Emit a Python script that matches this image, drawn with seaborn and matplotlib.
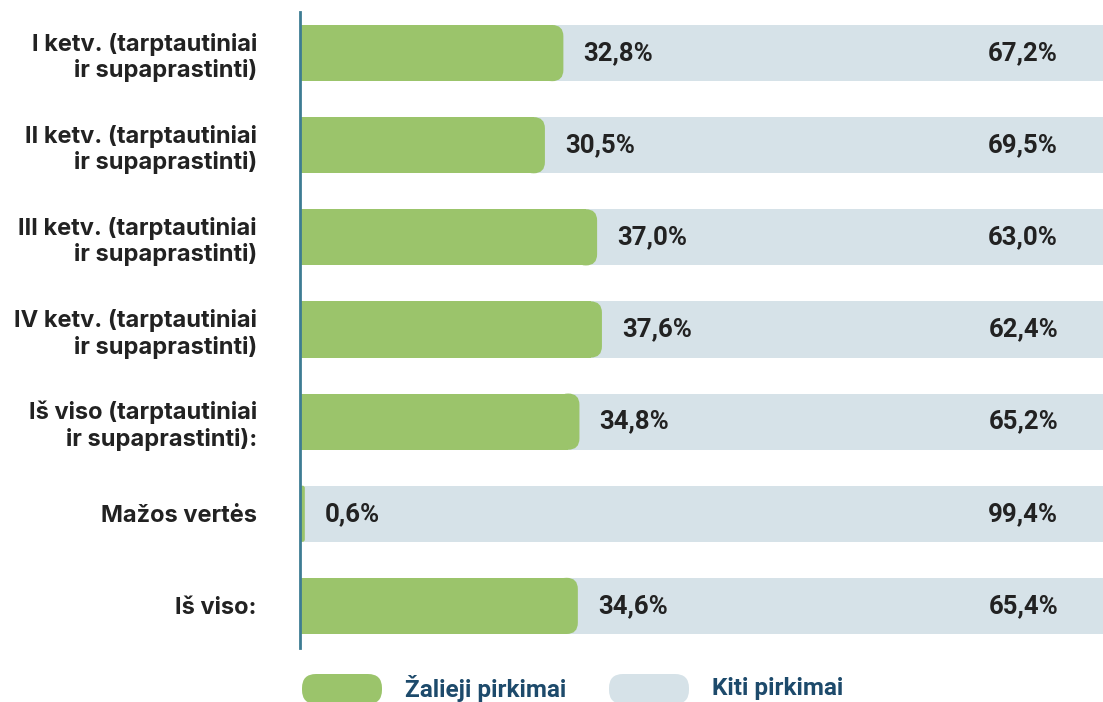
import matplotlib.pyplot as plt
import seaborn as sns
from matplotlib.patches import FancyBboxPatch

# Data
categories = [
    'I ketv. (tarptautiniai\nir supaprastinti)',
    'II ketv. (tarptautiniai\nir supaprastinti)',
    'III ketv. (tarptautiniai\nir supaprastinti)',
    'IV ketv. (tarptautiniai\nir supaprastinti)',
    'Iš viso (tarptautiniai\nir supaprastinti):',
    'Mažos vertės',
    'Iš viso:',
]
green_share = [32.8, 30.5, 37.0, 37.6, 34.8, 0.6, 34.6]
other_share = [67.2, 69.5, 63.0, 62.4, 65.2, 99.4, 65.4]
green_labels = ['32,8%', '30,5%', '37,0%', '37,6%', '34,8%', '0,6%', '34,6%']
other_labels = ['67,2%', '69,5%', '63,0%', '62,4%', '65,2%', '99,4%', '65,4%']
legend_labels = ['Žalieji pirkimai', 'Kiti pirkimai']

GREEN = '#9bc46b'
GREY = '#d6e2e8'
TEXT = '#222222'
NAVY = '#1d4a6b'
AXIS = '#3d7c93'

sns.set_style('white')
plt.rcParams['font.family'] = ['Inter', 'DejaVu Sans']

fig = plt.figure(figsize=(11.03, 7.02), dpi=100)
ax = fig.add_axes([300 / 1103, 1 - 648 / 702, 1 - 300 / 1103, 636 / 702])

bar_h = 0.61
pos = list(range(len(categories)))
r_max = 1.4  # corner radius in x units (~11 px)

# grey remainder bars (tucked a little under the green rounded end)
grey = ax.barh(pos, other_share, left=green_share, height=bar_h, color=GREY,
               linewidth=0, zorder=1)
for p in grey:
    p.set_x(p.get_x() - r_max)
    p.set_width(p.get_width() + r_max)

# green bars via seaborn
sns.barplot(x=green_share, y=categories, orient='h', color=GREEN,
            width=bar_h, saturation=1, linewidth=0, ax=ax, zorder=2)

ax.set_xlim(0, 100)
ax.set_ylim(len(categories) - 1 + 0.457, -0.446)

# rounded right end on the green bars
asp = (1 / 92) / (100 / 803)
green_patches = [p for p in ax.patches if p not in list(grey)]
for p in green_patches:
    p.set_edgecolor('none')
    p.set_linewidth(0)
    w, y, h = p.get_width(), p.get_y(), p.get_height()
    r = min(r_max, w / 2)
    p.set_width(w - r)
    ax.add_patch(FancyBboxPatch((w - 2 * r, y), 2 * r, h,
                                boxstyle=f'round,pad=0,rounding_size={r}',
                                mutation_aspect=asp, facecolor=GREEN,
                                edgecolor='none', linewidth=0, zorder=2))

# value labels
for i in pos:
    ax.annotate(green_labels[i], (green_share[i], i), xytext=(14.4, 0),
                textcoords='offset points', va='center', ha='left',
                fontsize=18.5, fontweight='bold', color=TEXT, family='Roboto', zorder=3)
    ax.annotate(other_labels[i], (100, i), xytext=(-32.4, 0),
                textcoords='offset points', va='center', ha='right',
                fontsize=18.5, fontweight='bold', color=TEXT, family='Roboto', zorder=3)

ax.set_xlabel('')
ax.set_ylabel('')
ax.set_xticks([])
ax.set_yticks(pos)
ax.set_yticklabels(categories, fontsize=17, fontweight='bold', color=TEXT,
                   linespacing=1.2, multialignment='right')
ax.tick_params(axis='y', length=0, pad=31)

for s in ['top', 'right', 'bottom']:
    ax.spines[s].set_visible(False)
ax.spines['left'].set_color(AXIS)
ax.spines['left'].set_linewidth(2)

# legend pills
for x0, col, lab in [(302, GREEN, legend_labels[0]), (609, GREY, legend_labels[1])]:
    fig.patches.append(FancyBboxPatch((x0 / 100, -0.02), 0.8, 0.30,
                                      boxstyle='round,pad=0,rounding_size=0.14',
                                      facecolor=col, edgecolor='none',
                                      transform=fig.dpi_scale_trans, figure=fig))
    fig.text((x0 + 103) / 1103, 1 - 689 / 702, lab, va='center', ha='left',
             fontsize=17.5, fontweight='bold', color=NAVY, family='Roboto')

fig.savefig('out.png', dpi=100)
